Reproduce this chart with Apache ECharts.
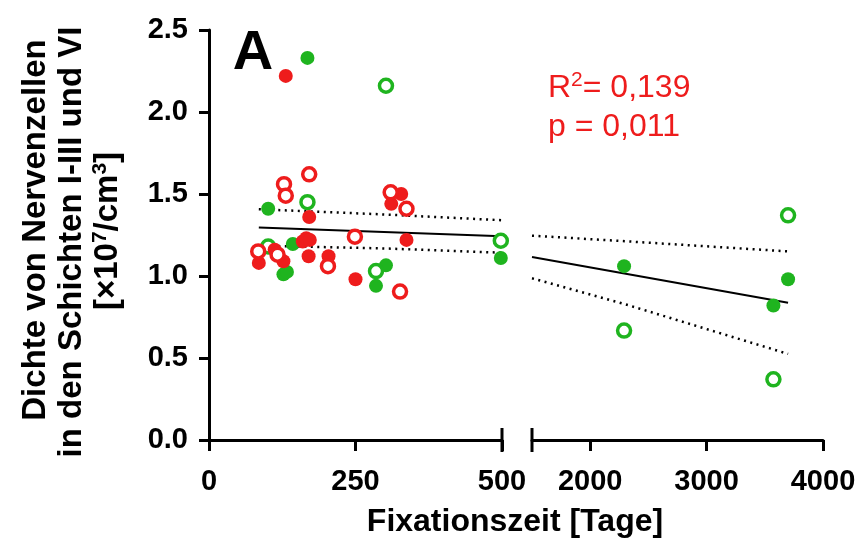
<!DOCTYPE html>
<html><head><meta charset="utf-8">
<script src="https://cdn.jsdelivr.net/npm/echarts@6/dist/echarts.min.js"></script>
<style>html,body{margin:0;padding:0;background:#fff}#c{width:861px;height:547px}</style>
</head><body><div id="c"></div>
<script>
// ---- data (x = Fixationszeit [Tage], y = Dichte [x10^7/cm^3]) ----
const redFilled = [[131,2.22],[171,1.36],[311,1.44],[328,1.50],[337,1.22],[160,1.21],[166,1.23],[172,1.22],[112,1.16],[85,1.08],[127,1.09],[170,1.12],[204,1.12],[250,0.98]];
const redOpen = [[128,1.56],[131,1.49],[171,1.62],[310,1.51],[337,1.41],[249,1.24],[84,1.15],[117,1.13],[203,1.06],[326,0.905]];
const greenFilled = [[168,2.33],[101,1.41],[498,1.11],[143,1.195],[127,1.01],[133,1.025],[302,1.065],[285,0.94],[2291,1.06],[3700,0.98],[3574,0.82]];
const greenOpen = [[302,2.16],[168,1.45],[498,1.215],[101,1.18],[285,1.03],[3700,1.37],[2291,0.667],[3574,0.37]];
const fitLeft = [[85,1.295],[500,1.243]];
const fitRight = [[1500,1.116],[3700,0.837]];
const ciUpperLeft = [[85,1.407],[300,1.375],[500,1.340]];
const ciLowerLeft = [[85,1.185],[300,1.168],[500,1.142]];
const ciUpperRight = [[1500,1.246],[2300,1.212],[3700,1.150]];
const ciLowerRight = [[1500,0.986],[2300,0.828],[3700,0.525]];
const xTicksRight = [2000,3000,4000];
const statR2 = '0,139';
const statP = '0,011';

const RED = '#ee1c1c', GREEN = '#1fb41f';
const FONT = '"Liberation Sans", Arial, sans-serif';
const leftPart = a => a.filter(p => p[0] <= 500);
const rightPart = a => a.filter(p => p[0] >= 1500);

const axisLine = {show:true, lineStyle:{color:'#000', width:3}};
const axisTick = {show:true, length:11, lineStyle:{color:'#000', width:3}};
const lab = {color:'#000', fontSize:29, fontWeight:'bold', fontFamily:FONT};

function lineS(data, xi, dotted){
  return {type:'line', xAxisIndex:xi, yAxisIndex:xi, data, symbol:'none', silent:true, z:1,
    lineStyle:{color:'#000', width: dotted ? 2.5 : 2, type: dotted ? [2,4.5] : 'solid'}};
}
function scat(data, xi, color, open){
  return {type:'scatter', xAxisIndex:xi, yAxisIndex:xi, data, z:3,
    symbol:'circle', symbolSize: open ? 13 : 14,
    itemStyle: open ? {color:'#fff', borderColor:color, borderWidth:3.5, opacity:1} : {color, opacity:1}};
}

const chart = echarts.init(document.getElementById('c'), null, {renderer:'canvas'});
const option = {
  animation:false,
  backgroundColor:'#fff',
  grid:[
    {left:209, right:359, top:30, bottom:107},
    {left:532, right:38, top:30, bottom:107}
  ],
  xAxis:[
    {gridIndex:0, type:'value', min:0, max:500, interval:250, axisLine, axisTick,
     axisLabel:{...lab, margin:27, formatter:v=>String(v)}, splitLine:{show:false}},
    {gridIndex:1, type:'value', min:1500, max:4000, axisLine,
     axisTick:{...axisTick, customValues:xTicksRight},
     axisLabel:{...lab, margin:27, customValues:xTicksRight, formatter:v=>String(v)}, splitLine:{show:false}}
  ],
  yAxis:[
    {gridIndex:0, type:'value', min:0, max:2.5, interval:0.5, axisLine, axisTick:{...axisTick, length:10},
     axisLabel:{...lab, margin:21, formatter:v=>v.toFixed(1)}, splitLine:{show:false}},
    {gridIndex:1, type:'value', min:0, max:2.5, interval:0.5, show:false, splitLine:{show:false}}
  ],
  series:[
    lineS(fitLeft,0,false), lineS(ciUpperLeft,0,true), lineS(ciLowerLeft,0,true),
    lineS(fitRight,1,false), lineS(ciUpperRight,1,true), lineS(ciLowerRight,1,true),
    scat(leftPart(greenFilled),0,GREEN,false), scat(rightPart(greenFilled),1,GREEN,false),
    scat(leftPart(greenOpen),0,GREEN,true), scat(rightPart(greenOpen),1,GREEN,true),
    scat(leftPart(redFilled),0,RED,false), scat(leftPart(redOpen),0,RED,true)
  ]
};
chart.setOption(option);

// decorations: axis break bars, titles, statistics
const x500 = chart.convertToPixel({xAxisIndex:0}, 500);
const x1500 = chart.convertToPixel({xAxisIndex:1}, 1500);
const y0 = chart.convertToPixel({yAxisIndex:0}, 0);
const sup = {fontSize:21, verticalAlign:'top', lineHeight:36, fontFamily:FONT};
chart.setOption({graphic:[
  {type:'line', shape:{x1:x500, y1:y0-12, x2:x500, y2:y0+12}, style:{stroke:'#000', lineWidth:3}},
  {type:'line', shape:{x1:x1500, y1:y0-12, x2:x1500, y2:y0+12}, style:{stroke:'#000', lineWidth:3}},
  {type:'text', x:253, y:54, style:{text:'A', font:'bold 56px '+FONT, fill:'#000', textAlign:'center', textVerticalAlign:'middle'}},
  {type:'text', x:548, y:88, style:{text:'R{s|2}= '+statR2, fill:RED, font:'32px '+FONT, fontSize:32, textAlign:'left', textVerticalAlign:'middle',
     rich:{s:{...sup, fill:RED}}}},
  {type:'text', x:548, y:127, style:{text:'p = '+statP, fill:RED, font:'32px '+FONT, textAlign:'left', textVerticalAlign:'middle'}},
  {type:'text', x:515, y:522, style:{text:'Fixationszeit [Tage]', font:'bold 32px '+FONT, fill:'#000', textAlign:'center', textVerticalAlign:'middle'}},
  {type:'text', x:36, y:230, rotation:Math.PI/2, style:{text:'Dichte von Nervenzellen', font:'bold 33px '+FONT, fill:'#000', textAlign:'center', textVerticalAlign:'middle'}},
  {type:'text', x:72, y:242, rotation:Math.PI/2, style:{text:'in den Schichten I-III und VI', font:'bold 33px '+FONT, fill:'#000', textAlign:'center', textVerticalAlign:'middle'}},
  {type:'text', x:108, y:231, rotation:Math.PI/2, style:{text:'[×10{s|7}/cm{s|3}]', font:'bold 33px '+FONT, fontWeight:'bold', fontSize:33, fill:'#000', textAlign:'center', textVerticalAlign:'middle',
     rich:{s:{...sup, fontWeight:'bold', fill:'#000'}}}}
]});
</script></body></html>
